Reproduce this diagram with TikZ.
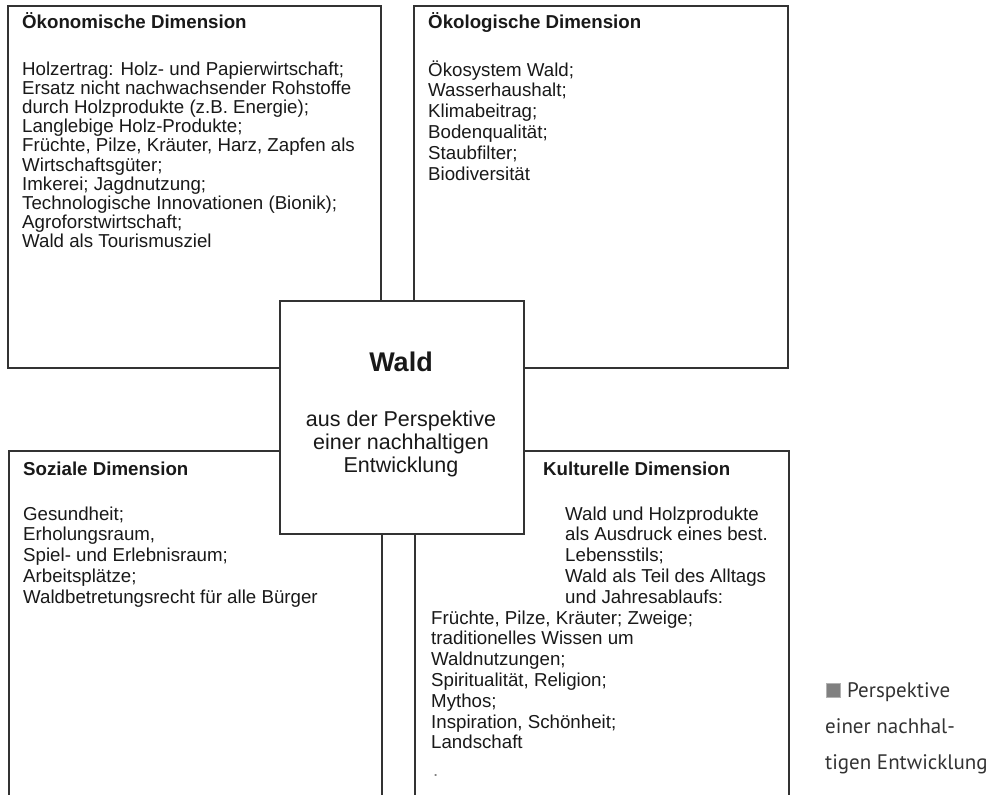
\documentclass[tikz,border=0pt]{standalone}
\usepackage{fontspec}
\setmainfont{Liberation Sans}
\newfontfamily\capfont{PT Sans}

\tikzset{
  dimbox/.style={draw=black!80, line width=1.6pt, fill=white, inner sep=0pt, anchor=north west},
  linetext/.style={anchor=base west, inner sep=0pt, text=black!90, font=\fontsize{18.7}{21}\selectfont},
  dimtitle/.style={linetext, font=\fontsize{18.7}{21}\selectfont\bfseries},
  waldtext/.style={anchor=base, inner sep=0pt, text=black!90, font=\fontsize{21.5}{23}\selectfont},
  captext/.style={anchor=base west, inner sep=0pt, text=black!80, font=\capfont\fontsize{21}{24}\selectfont},
}

\begin{document}
\begin{tikzpicture}[x=1pt,y=-1pt]
  \useasboundingbox (0,0) rectangle (999,795);

  % the four dimensions
  \node[dimbox, minimum width=373pt, minimum height=362pt] (oekonom) at (7,5) {};
  \node[dimbox, minimum width=374pt, minimum height=362pt] (oekolog) at (413,5) {};
  \node[dimbox, minimum width=373pt, minimum height=350pt] (sozial) at (8,450) {};
  \node[dimbox, minimum width=374pt, minimum height=350pt] (kultur) at (414,450) {};

  % oekonomische dimension
  \node[dimtitle] (oekonom-t) at (22,28) {Ökonomische Dimension};
  \foreach \line [count=\i from 0] in {{Holzertrag: Holz- und Papierwirtschaft;},
      {Ersatz nicht nachwachsender Rohstoffe}, {durch Holzprodukte (z.B. Energie);},
      {Langlebige Holz-Produkte;}, {Früchte, Pilze, Kräuter, Harz, Zapfen als},
      {Wirtschaftsgüter;}, {Imkerei; Jagdnutzung;}, {Technologische Innovationen (Bionik);},
      {Agroforstwirtschaft;}, {Wald als Tourismusziel}}
    \node[linetext] (oekonom-\i) at (22,75+19.2*\i) {\line};

  % oekologische dimension
  \node[dimtitle] (oekolog-t) at (428,28) {Ökologische Dimension};
  \foreach \line [count=\i from 0] in {{Ökosystem Wald;}, {Wasserhaushalt;}, {Klimabeitrag;},
      {Bodenqualität;}, {Staubfilter;}, {Biodiversität}}
    \node[linetext] (oekolog-\i) at (428,76+20.9*\i) {\line};

  % soziale dimension
  \node[dimtitle] (sozial-t) at (23,475) {Soziale Dimension};
  \foreach \line [count=\i from 0] in {{Gesundheit;}, {Erholungsraum,}, {Spiel- und Erlebnisraum;},
      {Arbeitsplätze;}, {Waldbetretungsrecht für alle Bürger}}
    \node[linetext] (sozial-\i) at (23,520+20.8*\i) {\line};

  % kulturelle dimension
  \node[dimtitle] (kultur-t) at (543,475) {Kulturelle Dimension};
  \foreach \line [count=\i from 0] in {{Wald und Holzprodukte}, {als Ausdruck eines best.},
      {Lebensstils;}, {Wald als Teil des Alltags}, {und Jahresablaufs:}}
    \node[linetext] (kultur-a\i) at (565,520+20.8*\i) {\line};
  \foreach \line [count=\i from 5] in {{Früchte, Pilze, Kräuter; Zweige;},
      {traditionelles Wissen um}, {Waldnutzungen;}, {Spiritualität, Religion;},
      {Mythos;}, {Inspiration, Schönheit;}, {Landschaft}}
    \node[linetext] (kultur-b\i) at (431,520+20.8*\i) {\line};
  \node[linetext, text=black!50] (kultur-dot) at (433,776) {.};

  % wald in the middle
  \node[dimbox, minimum width=244pt, minimum height=233pt] (wald) at (279,300) {};
  \node[waldtext, font=\fontsize{27}{30}\selectfont\bfseries] (wald-t) at (401,371) {Wald};
  \node[waldtext] (wald-1) at (401,426) {aus der Perspektive};
  \node[waldtext] (wald-2) at (401,449) {einer nachhaltigen};
  \node[waldtext] (wald-3) at (401,472) {Entwicklung};

  % caption
  \node[fill=black!50, draw=black!30, line width=0.8pt, minimum size=14pt, inner sep=0pt, anchor=north west] (capmark) at (826,683) {};
  \node[captext] (cap-1) at (847,697) {Perspektive};
  \node[captext] (cap-2) at (825,733) {einer nachhal-};
  \node[captext] (cap-3) at (825,769) {tigen Entwicklung};
\end{tikzpicture}
\end{document}
